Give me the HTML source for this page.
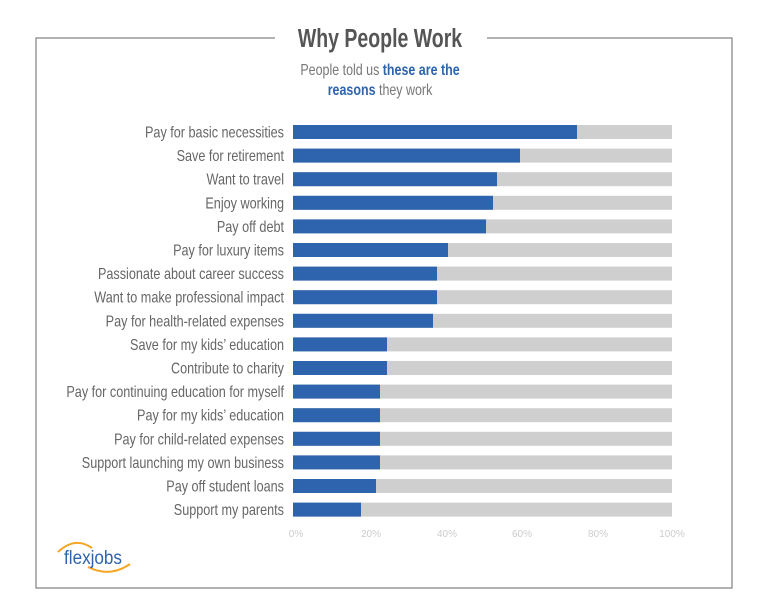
<!DOCTYPE html>
<html><head><style>body{margin:0;background:#fff}svg{display:block}</style></head><body>
<svg width="768" height="611" xmlns="http://www.w3.org/2000/svg" font-family="Liberation Sans, sans-serif">
<path d="M275 38 H36 V588 H732 V38 H487" fill="none" stroke="#999" stroke-width="1.5"/>
<g transform="translate(380,0) scale(0.75,1)">
<text x="0" y="47" text-anchor="middle" font-size="26" font-weight="bold" fill="#555">Why People Work</text>
</g>
<g transform="translate(380,0) scale(0.78,1)">
<text x="0" y="75" text-anchor="middle" font-size="16" fill="#777">People told us <tspan fill="#2e64ad" font-weight="bold">these are the</tspan></text>
<text x="0" y="95" text-anchor="middle" font-size="16" fill="#777"><tspan fill="#2e64ad" font-weight="bold">reasons</tspan> they work</text>
</g>
<g fill="#cfcfcf">
<rect x="293" y="125" width="379" height="14"/><rect x="293" y="148.6" width="379" height="14"/><rect x="293" y="172.2" width="379" height="14"/><rect x="293" y="195.8" width="379" height="14"/><rect x="293" y="219.4" width="379" height="14"/><rect x="293" y="243" width="379" height="14"/><rect x="293" y="266.6" width="379" height="14"/><rect x="293" y="290.2" width="379" height="14"/><rect x="293" y="313.8" width="379" height="14"/><rect x="293" y="337.4" width="379" height="14"/><rect x="293" y="361" width="379" height="14"/><rect x="293" y="384.6" width="379" height="14"/><rect x="293" y="408.2" width="379" height="14"/><rect x="293" y="431.8" width="379" height="14"/><rect x="293" y="455.4" width="379" height="14"/><rect x="293" y="479" width="379" height="14"/><rect x="293" y="502.6" width="379" height="14"/>
</g>
<g fill="#2e64ad">
<rect x="293" y="125" width="284" height="14"/><rect x="293" y="148.6" width="227" height="14"/><rect x="293" y="172.2" width="204" height="14"/><rect x="293" y="195.8" width="200" height="14"/><rect x="293" y="219.4" width="193" height="14"/><rect x="293" y="243" width="155" height="14"/><rect x="293" y="266.6" width="144" height="14"/><rect x="293" y="290.2" width="144" height="14"/><rect x="293" y="313.8" width="140" height="14"/><rect x="293" y="337.4" width="94" height="14"/><rect x="293" y="361" width="94" height="14"/><rect x="293" y="384.6" width="87" height="14"/><rect x="293" y="408.2" width="87" height="14"/><rect x="293" y="431.8" width="87" height="14"/><rect x="293" y="455.4" width="87" height="14"/><rect x="293" y="479" width="83" height="14"/><rect x="293" y="502.6" width="68" height="14"/>
</g>
<g transform="translate(284,0) scale(0.79,1)" font-size="16" fill="#666" text-anchor="end">
<text x="0" y="137.5">Pay for basic necessities</text>
<text x="0" y="161.1">Save for retirement</text>
<text x="0" y="184.7">Want to travel</text>
<text x="0" y="208.3">Enjoy working</text>
<text x="0" y="231.9">Pay off debt</text>
<text x="0" y="255.5">Pay for luxury items</text>
<text x="0" y="279.1">Passionate about career success</text>
<text x="0" y="302.7">Want to make professional impact</text>
<text x="0" y="326.3">Pay for health-related expenses</text>
<text x="0" y="349.9">Save for my kids’ education</text>
<text x="0" y="373.5">Contribute to charity</text>
<text x="0" y="397.1">Pay for continuing education for myself</text>
<text x="0" y="420.7">Pay for my kids’ education</text>
<text x="0" y="444.3">Pay for child-related expenses</text>
<text x="0" y="467.9">Support launching my own business</text>
<text x="0" y="491.5">Pay off student loans</text>
<text x="0" y="515.1">Support my parents</text>
</g>
<g font-size="10" fill="#ccc" text-anchor="middle">
<text x="296" y="537">0%</text><text x="371" y="537">20%</text><text x="447" y="537">40%</text><text x="522" y="537">60%</text><text x="598" y="537">80%</text><text x="672" y="537">100%</text>
</g>
<path d="M58 552 Q75 536 92 548" fill="none" stroke="#f5a623" stroke-width="2"/>
<path d="M88 567 Q110 578 130 564" fill="none" stroke="#f5a623" stroke-width="2"/>
<g transform="translate(93,0) scale(0.9,1)"><text x="0" y="564" text-anchor="middle" font-size="19" fill="#2e64ad">flexjobs</text></g>
</svg>
</body></html>
